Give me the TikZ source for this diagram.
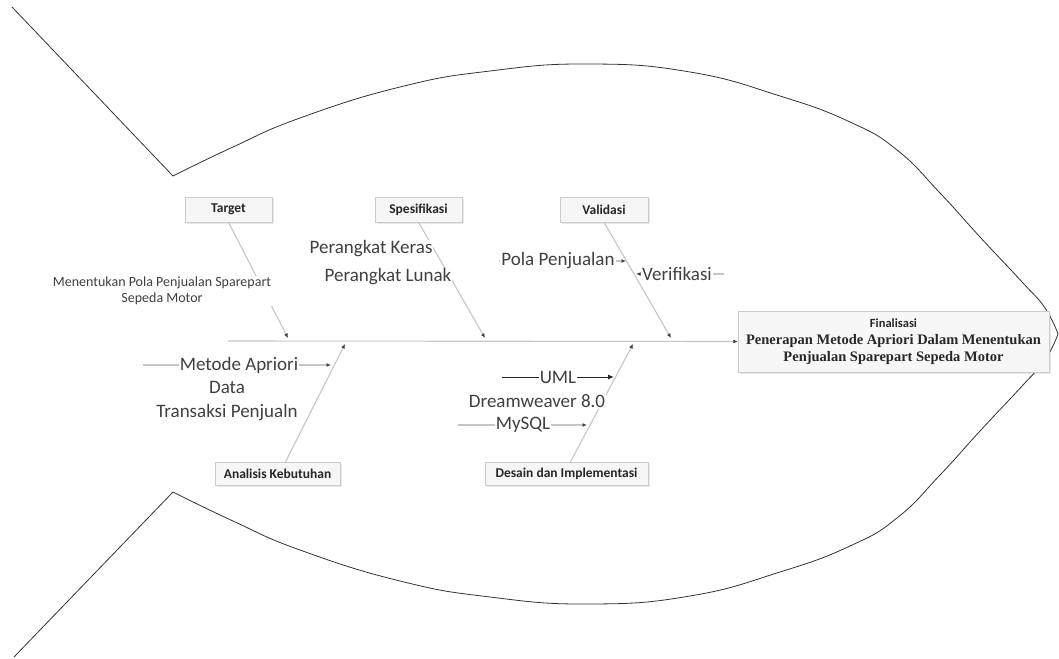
\documentclass[tikz,border=0pt]{standalone}
\usepackage{fontspec}
\setmainfont{Carlito}
\newfontfamily\tnr{Liberation Serif}
\usetikzlibrary{arrows.meta,shadows}
\begin{document}
\begin{tikzpicture}[x=1pt,y=-1pt,
  fish/.style={draw=black!80, line width=0.8pt},
  bone/.style={draw=gray!45, line width=1.1pt},
  tipd/.style={-{Latex[length=4.5pt,width=4pt,color=black!75]}},
  catbox/.style={draw=gray!40, fill=gray!7, text=black!85, inner sep=0pt,
    font=\bfseries\fontsize{13.5}{15}\selectfont,
    drop shadow={opacity=0.18,shadow xshift=1.5pt,shadow yshift=-1.5pt}},
  finbox/.style={draw=gray!40, fill=gray!6, text=black!85, inner sep=0pt,
    align=center, minimum width=311pt, minimum height=61pt,
    font=\fontsize{14.5}{17}\selectfont,
    drop shadow={opacity=0.18,shadow xshift=1.5pt,shadow yshift=-1.5pt}},
  lbl/.style={font=\fontsize{19}{24}\selectfont, text=black!75, inner sep=1pt, fill=white, align=center},
  small/.style={font=\fontsize{14}{16}\selectfont, text=black!75, inner sep=1pt, fill=white, align=center}
]
\useasboundingbox (0,0) rectangle (1059,658);

% fish outline
\draw[fish] (12,7) -- (173,176)
  -- plot[smooth,tension=0.8] coordinates {(173,176) (233,147) (300,118) (400,87) (490,71) (589,64) (690,72) (780,96) (850,122) (897,150) (940,193) (980,237) (1023,283) (1045,308) (1058,334)}
  -- plot[smooth,tension=0.8] coordinates {(1058,334) (1045,360) (1023,385) (980,431) (940,475) (897,518) (850,546) (780,572) (690,596) (589,604) (490,597) (400,581) (300,550) (233,521) (173,492)}
  -- (14,657);

% category boxes
\node[catbox, minimum width=87pt, minimum height=25pt] (target) at (228.5,209.5) {Target};
\node[catbox, minimum width=87pt, minimum height=25pt] (spes) at (418.5,209.5) {Spesifikasi};
\node[catbox, minimum width=88pt, minimum height=25pt] (valid) at (604,209.5) {Validasi};
\node[catbox, minimum width=125pt, minimum height=23pt] (anal) at (277.5,473.5) {Analisis Kebutuhan};
\node[catbox, minimum width=163pt, minimum height=23pt] (desain) at (566.5,473.5) {Desain dan Implementasi};
\node[finbox] (fin) at (893.5,341.5) {{\bfseries\fontsize{12.5}{14}\selectfont Finalisasi}\\
  {\tnr\bfseries Penerapan Metode Apriori Dalam Menentukan}\\
  {\tnr\bfseries Penjualan Sparepart Sepeda Motor}};

% spine and bone ends
\coordinate (spL) at (228,341);
\coordinate (eT) at (288,338);
\coordinate (eS) at (485,338);
\coordinate (eV) at (671,338);
\coordinate (eA) at (345,344);
\coordinate (eD) at (633,344);

\draw[bone,tipd] (spL) -- (fin.west);
\draw[bone,tipd] (target.south) -- (eT);
\draw[bone,tipd] (spes.south) -- (eS);
\draw[bone,tipd] (valid.south) -- (eV);
\draw[bone,tipd] ([xshift=8pt]anal.north) -- (eA);
\draw[bone,tipd] ([xshift=4pt]desain.north) -- (eD);

% sub-bones
\coordinate (maL) at (143,365);  \coordinate (maR) at (331,365);
\coordinate (ppL) at (499,261);  \coordinate (ppR) at (626,261);
\coordinate (vfR) at (724,274);  \coordinate (vfL) at (636,274);
\coordinate (umL) at (502,377);  \coordinate (umR) at (614,377);
\coordinate (myL) at (458,425);  \coordinate (myR) at (587,425);
\draw[bone,tipd] (maL) -- (maR);
\draw[bone,tipd] (ppL) -- (ppR);
\draw[bone,tipd] (vfR) -- (vfL);
\draw[black!85, line width=1pt, -{Latex[length=6pt,width=5pt]}] (umL) -- (umR);
\draw[bone,tipd] (myL) -- (myR);

% labels
\node[small] (tl) at (162,291) {Menentukan Pola Penjualan Sparepart\\Sepeda Motor};
\node[lbl] (pk) at (371,249) {Perangkat Keras};
\node[lbl] (pl) at (388,277) {Perangkat Lunak};
\node[lbl] (pp) at (558,261) {Pola Penjualan};
\node[lbl] (vf) at (677,274) {Verifikasi};
\node[lbl] (ma) at (239,365) {Metode Apriori};
\node[lbl] (dt) at (227,401) {Data\\Transaksi Penjualn};
\node[lbl] (uml) at (558,377) {UML};
\node[lbl] (dw) at (537,401) {Dreamweaver 8.0};
\node[lbl] (my) at (523,425) {MySQL};
\end{tikzpicture}
\end{document}
